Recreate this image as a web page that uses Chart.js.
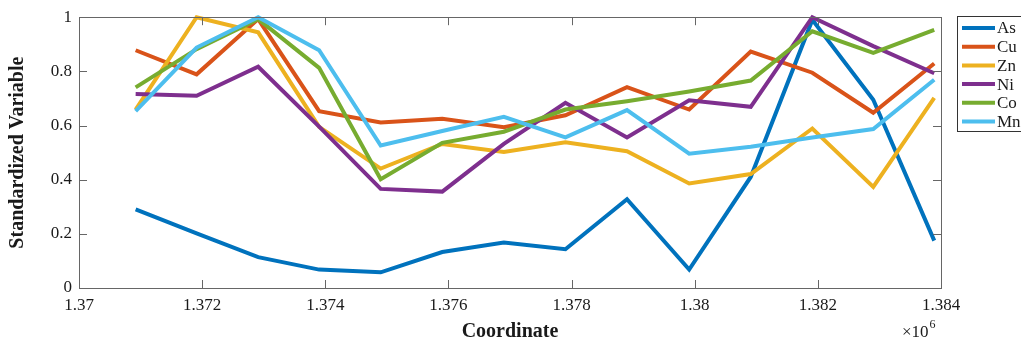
<!DOCTYPE html>
<html>
<head>
<meta charset="utf-8">
<script src="https://cdn.jsdelivr.net/npm/chart.js@4/dist/chart.umd.min.js"></script>
<style>
  html, body { margin: 0; padding: 0; background: #fff; }
  #wrap { width: 1021px; height: 348px; position: relative; }
</style>
</head>
<body>
<div id="wrap"><canvas id="c" width="1021" height="348"></canvas></div>
<script>
// Sampling coordinates along the profile
const coordinates = [1370920, 1371910, 1372910, 1373900, 1374900, 1375900, 1376900,
                     1377900, 1378900, 1379910, 1380910, 1381910, 1382900, 1383890];

// Standardized concentrations per element
const asValues = [0.290, 0.202, 0.114, 0.068, 0.058, 0.133, 0.168, 0.143, 0.328, 0.068, 0.410, 0.990, 0.695, 0.175];
const cuValues = [0.878, 0.789, 0.993, 0.653, 0.611, 0.625, 0.594, 0.638, 0.742, 0.659, 0.873, 0.795, 0.647, 0.829];
const znValues = [0.659, 1.000, 0.944, 0.595, 0.441, 0.532, 0.502, 0.538, 0.505, 0.386, 0.421, 0.589, 0.373, 0.702];
const niValues = [0.716, 0.710, 0.817, 0.596, 0.366, 0.356, 0.532, 0.684, 0.556, 0.693, 0.669, 1.000, 0.893, 0.793];
const coValues = [0.741, 0.882, 0.993, 0.813, 0.402, 0.536, 0.577, 0.659, 0.690, 0.726, 0.766, 0.948, 0.868, 0.953];
const mnValues = [0.653, 0.888, 1.000, 0.878, 0.526, 0.580, 0.632, 0.556, 0.657, 0.496, 0.522, 0.556, 0.587, 0.769];

const seriesNames = ['As', 'Cu', 'Zn', 'Ni', 'Co', 'Mn'];
const seriesValues = [asValues, cuValues, znValues, niValues, coValues, mnValues];
const seriesColors = ['#0072BD', '#D95319', '#EDB120', '#7E2F8E', '#77AC30', '#4DBEEE'];

const xTickValues = [1370000, 1372000, 1374000, 1376000, 1378000, 1380000, 1382000, 1384000];
const yTickValues = [0, 0.2, 0.4, 0.6, 0.8, 1];

const SERIF = '"Liberation Serif", "Times New Roman", serif';
const AXIS_COLOR = '#666666';
const TEXT_COLOR = '#1a1a1a';

const datasets = seriesNames.map((name, i) => ({
  label: name,
  data: coordinates.map((x, k) => ({ x: x, y: seriesValues[i][k] })),
  borderColor: seriesColors[i],
  backgroundColor: seriesColors[i],
  borderWidth: 4,
  pointRadius: 0,
  tension: 0,
  fill: false,
  clip: 6,
  order: seriesNames.length - i
}));

// Box frame with inward ticks on all four sides, and the exponent note
const framePlugin = {
  id: 'frame',
  afterDatasetsDraw(chart) {
    const ctx = chart.ctx;
    const a = chart.chartArea;
    const xs = chart.scales.x, ys = chart.scales.y;
    const len = 8;
    ctx.save();
    ctx.strokeStyle = AXIS_COLOR;
    ctx.lineWidth = 1;
    ctx.beginPath();
    xTickValues.forEach(v => {
      const px = Math.round(xs.getPixelForValue(v)) + 0.5;
      ctx.moveTo(px, a.bottom); ctx.lineTo(px, a.bottom - len);
      ctx.moveTo(px, a.top); ctx.lineTo(px, a.top + len);
    });
    yTickValues.forEach(v => {
      const py = Math.round(ys.getPixelForValue(v)) + 0.5;
      ctx.moveTo(a.left, py); ctx.lineTo(a.left + len, py);
      ctx.moveTo(a.right, py); ctx.lineTo(a.right - len, py);
    });
    ctx.stroke();
    ctx.strokeRect(Math.round(a.left) + 0.5, Math.round(a.top) + 0.5,
                   Math.round(a.right - a.left), Math.round(a.bottom - a.top));

    // ×10^6 multiplier under the last tick
    ctx.fillStyle = TEXT_COLOR;
    ctx.textBaseline = 'alphabetic';
    ctx.textAlign = 'left';
    ctx.font = '17px ' + SERIF;
    const base = 337;
    const x0 = a.right - 39;
    ctx.fillText('\u00d710', x0, base);
    const w = ctx.measureText('\u00d710').width;
    ctx.font = '12px ' + SERIF;
    ctx.fillText('6', x0 + w + 1, base - 9);
    ctx.restore();
  }
};

// Boxed legend at the right edge
const legendPlugin = {
  id: 'boxLegend',
  afterDraw(chart) {
    const ctx = chart.ctx;
    const left = 957, top = 16, bottom = 131;
    ctx.save();
    ctx.fillStyle = '#ffffff';
    ctx.fillRect(left, top, 80, bottom - top);
    ctx.strokeStyle = '#333333';
    ctx.lineWidth = 1;
    ctx.strokeRect(left + 0.5, top + 0.5, 80, bottom - top);
    ctx.font = '17px ' + SERIF;
    ctx.textBaseline = 'middle';
    ctx.textAlign = 'left';
    chart.data.datasets.forEach((ds, i) => {
      const y = 28 + i * 18.7;
      ctx.strokeStyle = ds.borderColor;
      ctx.lineWidth = 4;
      ctx.beginPath();
      ctx.moveTo(962, y); ctx.lineTo(995, y);
      ctx.stroke();
      ctx.fillStyle = TEXT_COLOR;
      ctx.fillText(ds.label, 997, y + 1);
    });
    ctx.restore();
  }
};

new Chart(document.getElementById('c'), {
  type: 'line',
  data: { datasets: datasets },
  plugins: [framePlugin, legendPlugin],
  options: {
    responsive: false,
    animation: false,
    events: [],
    layout: { padding: { top: 13, right: 80, left: 0, bottom: 0 } },
    plugins: { legend: { display: false }, tooltip: { enabled: false } },
    scales: {
      x: {
        type: 'linear',
        min: 1370000,
        max: 1384000,
        afterBuildTicks: s => { s.ticks = xTickValues.map(v => ({ value: v })); },
        afterFit: s => { s.height = 60; },
        grid: { display: false, drawTicks: false },
        border: { display: false },
        ticks: {
          padding: 7,
          maxRotation: 0,
          autoSkip: false,
          color: TEXT_COLOR,
          font: { family: SERIF, size: 17 },
          callback: v => String(+(v / 1e6).toFixed(3))
        },
        title: {
          display: true,
          text: 'Coordinate',
          color: TEXT_COLOR,
          font: { family: SERIF, size: 20, weight: 'bold' },
          padding: { top: 0, bottom: 4 }
        }
      },
      y: {
        type: 'linear',
        min: 0,
        max: 1,
        afterBuildTicks: s => { s.ticks = yTickValues.map(v => ({ value: v })); },
        afterFit: s => { s.width = 79; },
        grid: { display: false, drawTicks: false },
        border: { display: false },
        ticks: {
          padding: 7,
          color: TEXT_COLOR,
          font: { family: SERIF, size: 17 },
          callback: v => String(+v.toFixed(1))
        },
        title: {
          display: true,
          text: 'Standardized Variable',
          color: TEXT_COLOR,
          font: { family: SERIF, size: 20, weight: 'bold' },
          padding: { top: 6, bottom: 0 }
        }
      }
    }
  }
});
</script>
</body>
</html>
